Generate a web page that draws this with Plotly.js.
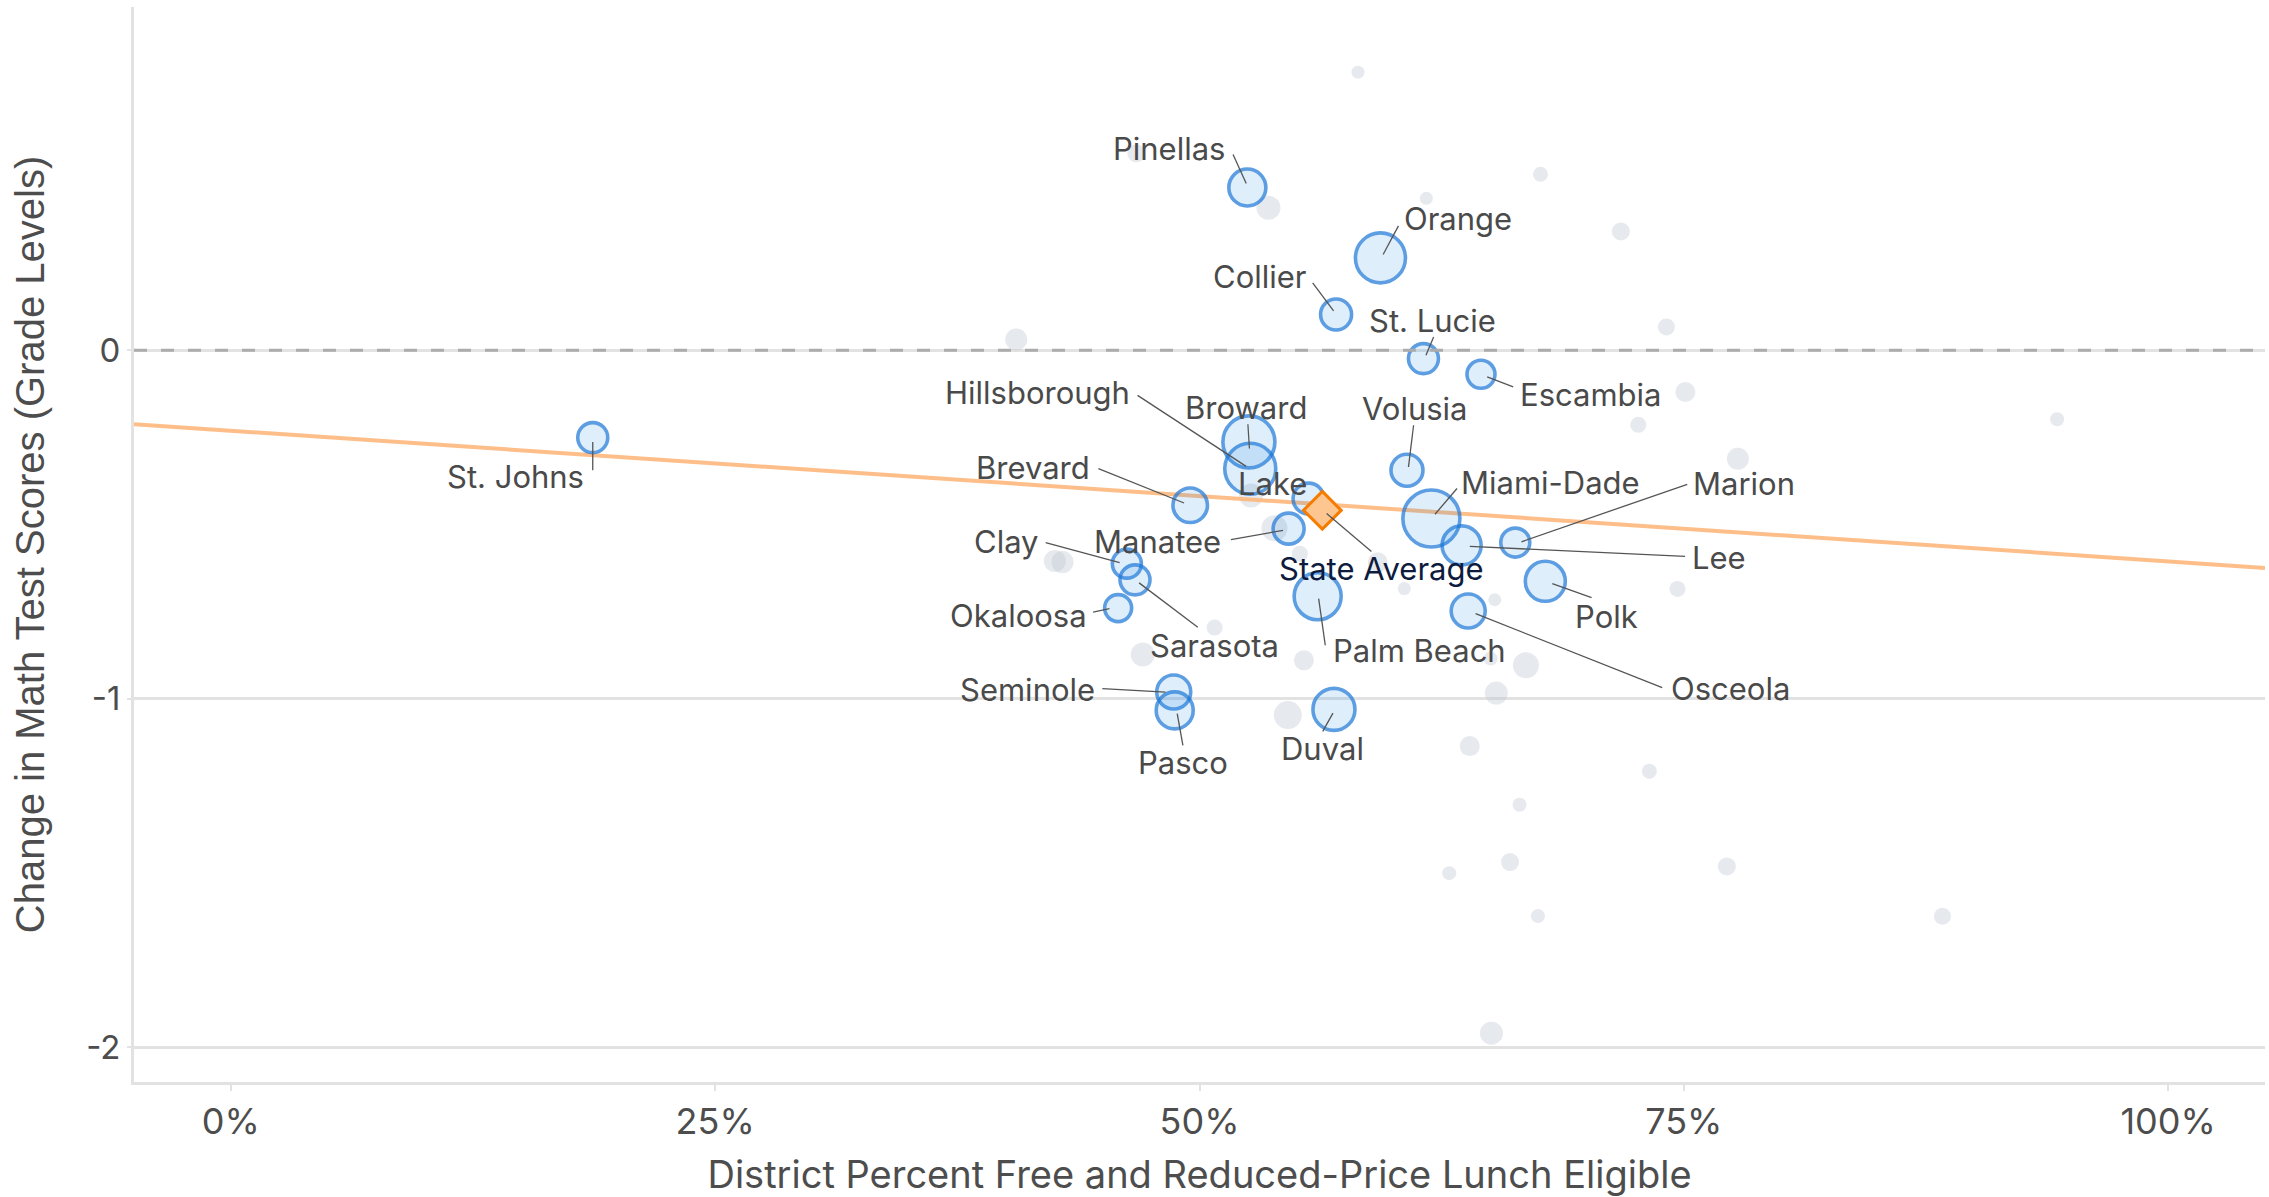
<!DOCTYPE html>
<html>
<head>
<meta charset="utf-8">
<script src="https://cdn.plot.ly/plotly-3.0.1.min.js"></script>
<style>
html,body{margin:0;padding:0;background:#fff;}
#chart{width:2269px;height:1197px;}
</style>
</head>
<body>
<div id="chart"></div>
<script>
// ---------- DATA ----------
// Highlighted (largest) districts
const districtNames = ["Pinellas","Orange","Collier","St. Lucie","Escambia","St. Johns","Broward","Hillsborough","Volusia","Lake","Brevard","Manatee","Miami-Dade","Marion","Lee","Polk","Clay","Sarasota","Okaloosa","Palm Beach","Osceola","Seminole","Pasco","Duval"];
const districtFRL = [0.5247,0.5934,0.5705,0.6156,0.6453,0.1868,0.5255,0.5262,0.6071,0.5563,0.4952,0.5460,0.6197,0.6630,0.6353,0.6785,0.4625,0.4667,0.4580,0.5610,0.6387,0.4867,0.4872,0.5694];
const districtChange = [0.467,0.265,0.1025,-0.024,-0.069,-0.2507,-0.263,-0.340,-0.3445,-0.4258,-0.445,-0.512,-0.483,-0.552,-0.560,-0.663,-0.6125,-0.659,-0.740,-0.706,-0.7485,-0.981,-1.0336,-1.0307];
const districtBubble = [37,50,31,30,28,30,52,51,32,31,34.5,31,57,29,39,40,29,30,27,47,34,34,37,42];

// Other districts
const otherFRL = [0.5818,0.4674,0.5356,0.6171,0.6760,0.7175,0.7410,0.4054,0.7508,0.7265,0.9427,0.7779,0.4253,0.4293,0.5518,0.6057,0.6524,0.7467,0.5078,0.4707,0.5539,0.6685,0.6532,0.5456,0.6395,0.7322,0.6652,0.6603,0.6289,0.7722,0.6747,0.8835,0.6507,0.5266,0.5387,0.5920,0.6503];
const otherChange = [0.798,0.565,0.4086,0.436,0.505,0.341,0.067,0.031,-0.120,-0.214,-0.198,-0.3115,-0.605,-0.608,-0.584,-0.684,-0.716,-0.685,-0.796,-0.873,-0.890,-0.904,-0.984,-1.047,-1.136,-1.208,-1.3044,-1.469,-1.5006,-1.4815,-1.6235,-1.6245,-1.960,-0.417,-0.511,-0.6087,-0.885];
const otherBubble = [13,18,24,13,15,18,17,22,20,16,14,22,22,22,16,13,13,16,16,24,20,26,23,28,20,15,14,18,14,18,14,17,23,24,26,20,14];

// State average
const stateLabel = "State Average";
const stateFRL = [0.5634];
const stateChange = [-0.4594];

// Linear fit across districts
const trendIntercept = -0.231;
const trendSlope = -0.375;

// Axis ticks
const xTickVals = [0,0.25,0.5,0.75,1];
const yTickVals = [0,-1,-2];
const yTickText = ["0","-1","-2"];

// ---------- LABEL LAYOUT (pixel offsets from each point: text centre, leader start, leader end; y down) ----------
const labelLayout = {
  "Pinellas":     [-78.6,-38.6, -14.3,-33, -1.1,-4],
  "Orange":       [77.6,-39, 18,-32, 2.7,-3.4],
  "Collier":      [-76,-38.3, -23.4,-31.6, -2.5,-3.6],
  "St. Lucie":    [9.2,-38.6, 10.2,-21.6, 2.5,-3.3],
  "Escambia":     [109.7,20.2, 6.2,2.7, 32.2,12.7],
  "St. Johns":    [-77.6,39.4, 0,4.4, 0,32.7],
  "Broward":      [-2.5,-34.2, -1,-17.7, 0.5,6.6],
  "Hillsborough": [-212.7,-75.8, -112.7,-73.3, -4.1,-2.3],
  "Volusia":      [7.6,-61.7, 6.6,-45, 1.5,-3.3],
  "Lake":         [-35.6,-15, null],
  "Brevard":      [-157.4,-38.3, -91.8,-36.7, -6.1,-2.3],
  "Manatee":      [-131.6,12.5, -57.7,11, -5.6,1.7],
  "Miami-Dade":   [119.2,-35.8, 25.6,-30, 3.6,-4.3],
  "Marion":       [228.7,-59.3, 172,-58.3, 6.2,-0.8],
  "Lee":          [257.5,12, 8.2,1, 223.5,11],
  "Polk":         [61.1,34.8, 7,2.3, 46.3,16.3],
  "Clay":         [-120,-22.5, -81.2,-21, -7.2,-1],
  "Sarasota":     [79.1,65.4, 62.8,47.4, 4.1,3],
  "Okaloosa":     [-99.6,7, -25,4, -8.7,0.6],
  "Palm Beach":   [102,54, 7.6,49, 1,2.3],
  "Osceola":      [262.4,77.6, 194,76.6, 7.4,2.6],
  "Seminole":     [-146.7,-2.5, -71.4,-3.4, -8.2,0],
  "Pasco":        [8,52.5, 8.2,35, 2.5,3.3],
  "Duval":        [-11.2,39, -11.2,22, -1,3.7],
  "State Average":[59.5,58.3, 4.3,3.3, 49.1,41.2]
};

// ---------- STYLE ----------
const LABEL_FONT = {family:"Inter, 'Noto Sans', sans-serif", size:31, color:"#4a4a4a"};
const X_RANGE = [-0.05, 1.05];

const traces = [
  {
    type:"scatter", mode:"markers", name:"Other districts",
    x: otherFRL, y: otherChange,
    marker:{size: otherBubble, color:"rgba(190,198,210,0.56)", line:{width:0}},
    hoverinfo:"skip", showlegend:false
  },
  {
    type:"scatter", mode:"lines", name:"Trend",
    x: X_RANGE, y: X_RANGE.map(v => trendIntercept + trendSlope * v),
    line:{color:"rgba(253,183,124,0.9)", width:4},
    hoverinfo:"skip", showlegend:false
  },
  {
    type:"scatter", mode:"markers", name:"Largest districts",
    x: districtFRL, y: districtChange, text: districtNames,
    marker:{size: districtBubble, color:"rgba(30,136,229,0.2)", line:{color:"#1976d8", width:3.6}},
    showlegend:false
  },
  {
    type:"scatter", mode:"markers", name:stateLabel,
    x: stateFRL, y: stateChange,
    marker:{symbol:"diamond", size:29, color:"#fdc590", line:{color:"#f57c00", width:3}},
    showlegend:false
  }
];

const annotations = [];
const shapes = [
  {type:"line", layer:"above", xref:"paper", x0:0, x1:1, yref:"y", y0:0, y1:0,
   line:{color:"#acacac", width:3.2, dash:"13px,14px"}}
];

function addLabel(name, x, y, color){
  const L = labelLayout[name];
  annotations.push({
    x:x, y:y, xref:"x", yref:"y", text:name, showarrow:false,
    xanchor:"center", yanchor:"middle", xshift:L[0], yshift:-L[1],
    font:Object.assign({}, LABEL_FONT, color ? {color:color} : {})
  });
  if (L[2] !== null && L.length > 3) {
    shapes.push({
      type:"line", layer:"above", xref:"x", yref:"y",
      xsizemode:"pixel", ysizemode:"pixel", xanchor:x, yanchor:y,
      x0:L[2], y0:-L[3], x1:L[4], y1:-L[5],
      line:{color:"#555555", width:1.3}
    });
  }
}
districtNames.forEach((n,i) => addLabel(n, districtFRL[i], districtChange[i]));
addLabel(stateLabel, stateFRL[0], stateChange[0], "#0d1b3e");

const layout = {
  width:2269, height:1197,
  margin:{l:134, r:4, t:7, b:115},
  paper_bgcolor:"#ffffff", plot_bgcolor:"#ffffff",
  font:{family:"Inter, 'Noto Sans', sans-serif", color:"#4d4d4d"},
  xaxis:{
    range:X_RANGE, tickvals:xTickVals, tickformat:".0%",
    showgrid:false, zeroline:false,
    showline:true, linecolor:"#e2e2e2", linewidth:3,
    ticks:"outside", ticklen:6, tickwidth:2, tickcolor:"#e2e2e2",
    tickfont:{family:"Inter, sans-serif", size:36, color:"#4d4d4d"},
    title:{text:"District Percent Free and Reduced-Price Lunch Eligible",
           font:{family:"Inter, sans-serif", size:38, color:"#4d4d4d"}, standoff:22}
  },
  yaxis:{
    range:[-2.1, 0.985], tickvals:yTickVals, ticktext:yTickText,
    showgrid:true, gridcolor:"#e2e2e2", gridwidth:2.5, zeroline:false,
    showline:true, linecolor:"#e2e2e2", linewidth:3,
    ticks:"outside", ticklen:4, tickwidth:2, tickcolor:"#e2e2e2",
    tickfont:{family:"Inter, sans-serif", size:33, color:"#4d4d4d"},
    title:{text:"Change in Math Test Scores (Grade Levels)",
           font:{family:"'Liberation Sans', Arial, sans-serif", size:40, color:"#4d4d4d"}, standoff:30}
  },
  annotations:annotations,
  shapes:shapes,
  showlegend:false,
  hovermode:"closest"
};

Plotly.newPlot("chart", traces, layout, {displayModeBar:false, responsive:false});
</script>
</body>
</html>
